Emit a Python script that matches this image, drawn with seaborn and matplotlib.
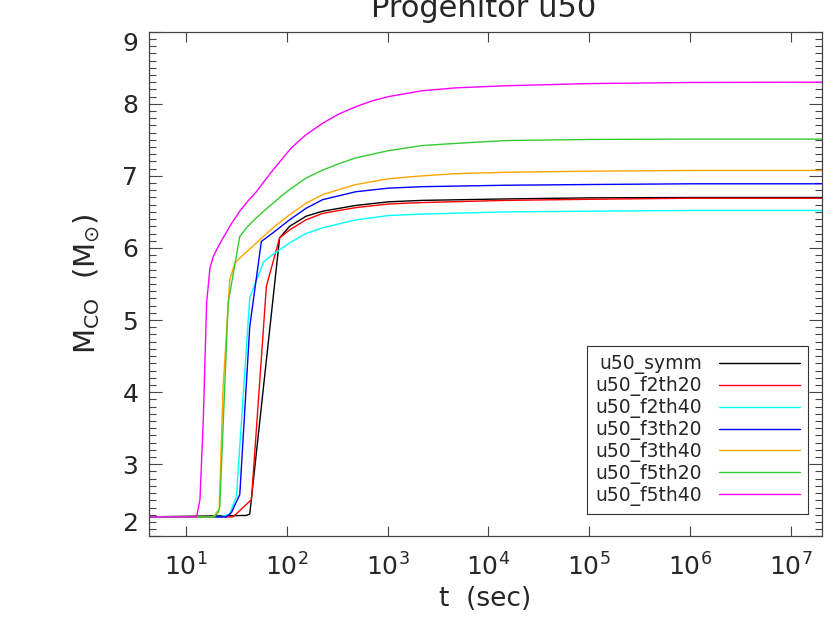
import matplotlib
matplotlib.use("Agg")
import matplotlib.pyplot as plt
import matplotlib.ticker as mticker
from matplotlib.lines import Line2D
import pandas as pd
import seaborn as sns

models = ["u50_symm", "u50_f2th20", "u50_f2th40", "u50_f3th20",
          "u50_f3th40", "u50_f5th20", "u50_f5th40"]
colors = ["black", "red", "cyan", "blue", "orange", "#33cc33", "magenta"]

# time (sec) and M_CO (Msun)
t_symm = [4.0, 39.8, 42.85, 84.72, 106.4, 154.9, 226.5, 484.2, 1023, 2188, 14791, 1e5, 1e6, 2.1e7]
m_symm = [2.27, 2.29, 2.31, 6.14, 6.30, 6.44, 6.51, 6.59, 6.64, 6.66, 6.68, 6.695, 6.70, 6.70]

t_f2th20 = [4.0, 29.31, 44.57, 62.66, 84.72, 106.4, 154.9, 226.5, 484.2, 1023, 2188, 14791, 1e5, 1e6, 2.1e7]
m_f2th20 = [2.27, 2.27, 2.51, 5.47, 6.14, 6.25, 6.39, 6.48, 6.56, 6.61, 6.63, 6.66, 6.675, 6.69, 6.69]

t_f2th40 = [4.0, 21.68, 27.16, 31.62, 42.85, 58.88, 72.78, 106.4, 154.9, 226.5, 484.2, 1023, 2188, 14791, 1e5, 1e6, 2.1e7]
m_f2th40 = [2.27, 2.27, 2.31, 2.56, 5.31, 5.81, 5.91, 6.07, 6.20, 6.28, 6.39, 6.45, 6.47, 6.50, 6.51, 6.52, 6.52]

t_f3th20 = [4.0, 25.12, 28.18, 34.12, 42.85, 55.85, 72.78, 106.4, 154.9, 226.5, 484.2, 1023, 2188, 14791, 1e5, 1e6, 2.1e7]
m_f3th20 = [2.27, 2.27, 2.33, 2.58, 4.91, 6.09, 6.21, 6.39, 6.55, 6.67, 6.78, 6.83, 6.85, 6.87, 6.88, 6.89, 6.89]

t_f3th40 = [4.0, 18.62, 21.33, 23.33, 27.16, 30.48, 34.12, 49.89, 72.78, 106.4, 154.9, 226.5, 484.2, 1023, 2188, 4677, 14791, 1e5, 1e6, 2.1e7]
m_f3th40 = [2.27, 2.27, 2.38, 4.08, 5.56, 5.79, 5.86, 6.07, 6.28, 6.46, 6.62, 6.74, 6.88, 6.96, 7.00, 7.03, 7.05, 7.065, 7.075, 7.075]

t_f5th20 = [4.0, 19.05, 20.84, 21.63, 26.18, 34.12, 41.0, 49.89, 60.0, 72.78, 88.0, 106.4, 155.0, 226.5, 330.0, 484.2, 1023, 2188, 4677, 14791, 1e5, 1e6, 2.1e7]
m_f5th20 = [2.27, 2.27, 2.33, 2.42, 5.24, 6.16, 6.30, 6.42, 6.52, 6.62, 6.72, 6.81, 6.97, 7.08, 7.17, 7.25, 7.35, 7.42, 7.45, 7.49, 7.505, 7.51, 7.51]

t_f5th40 = [4.0, 12.74, 13.74, 14.83, 16.0, 17.26, 18.62, 20.5, 23.33, 28.0, 34.12, 41.0, 49.89, 60.0, 72.78, 88.0, 106.4, 128.0, 154.9, 226.5, 330.0, 484.2, 700.0, 1023, 2188, 4677, 14791, 1e5, 1e6, 2.1e7]
m_f5th40 = [2.27, 2.27, 2.51, 3.62, 5.24, 5.72, 5.88, 6.00, 6.14, 6.33, 6.51, 6.65, 6.78, 6.93, 7.08, 7.22, 7.36, 7.47, 7.57, 7.73, 7.86, 7.96, 8.04, 8.10, 8.18, 8.22, 8.25, 8.28, 8.295, 8.30]

series = {
    "u50_symm": (t_symm, m_symm),
    "u50_f2th20": (t_f2th20, m_f2th20),
    "u50_f2th40": (t_f2th40, m_f2th40),
    "u50_f3th20": (t_f3th20, m_f3th20),
    "u50_f3th40": (t_f3th40, m_f3th40),
    "u50_f5th20": (t_f5th20, m_f5th20),
    "u50_f5th40": (t_f5th40, m_f5th40),
}
df = pd.concat([pd.DataFrame({"t": t, "mco": m, "model": name})
                for name, (t, m) in series.items()], ignore_index=True)

sns.set_style("ticks")
plt.rcParams["font.family"] = ["DejaVu Sans"]
plt.rcParams["mathtext.fontset"] = "dejavusans"

fig = plt.figure(figsize=(8.3, 6.31), dpi=100)
ax = fig.add_axes([0.18, 0.15, 0.81, 0.7998])
ax.set_xscale("log")

sns.lineplot(data=df, x="t", y="mco", hue="model", hue_order=models,
             palette=colors, estimator=None, sort=False, lw=1.0,
             legend=False, ax=ax)

ax.set_xlim(4.33, 2.02e7)
ax.set_ylim(2, 9)
ax.xaxis.set_major_locator(mticker.LogLocator(base=10, numticks=20))
ax.xaxis.set_minor_locator(mticker.NullLocator())
ax.yaxis.set_major_locator(mticker.FixedLocator(range(2, 10)))
ax.yaxis.set_minor_locator(mticker.MultipleLocator(0.1))

ax.tick_params(which="both", direction="in", top=True, right=True,
               color="#444444", labelsize=18)
ax.tick_params(axis="y", which="major", length=9.5, width=0.8, pad=8)
ax.tick_params(axis="y", which="minor", length=4.8, width=0.8)
ax.tick_params(axis="x", which="major", length=7.2, width=0.8, pad=12)
for sp in ax.spines.values():
    sp.set_color("#444444")
    sp.set_linewidth(0.9)

yticks = ax.yaxis.get_major_ticks()
yticks[0].label1.set_verticalalignment("bottom")
yticks[-1].label1.set_verticalalignment("top")

ax.set_xlabel("t  (sec)", fontsize=19)
ax.xaxis.set_label_coords(0.5, -0.098)
ax.xaxis.label.set_verticalalignment("top")
ax.set_ylabel(r"M$_{\mathdefault{CO}}$  (M$_{\odot}$)", fontsize=21)
ax.yaxis.set_label_coords(-0.07, 0.5)

fig.text(0.583, 0.9735, "Progenitor u50", ha="center", va="baseline", fontsize=22)

handles = [Line2D([], [], color=c, lw=1.0) for c in colors]
leg = ax.legend(handles, models, loc="lower right", bbox_to_anchor=(0.98, 0.044),
                borderaxespad=0, markerfirst=False, fancybox=False,
                edgecolor="#333333", framealpha=1, fontsize=13.5,
                handlelength=4.3, handletextpad=0.9, labelspacing=0.1,
                borderpad=0.45)
leg.get_frame().set_linewidth(0.8)

fig.savefig("out.png", dpi=100)
